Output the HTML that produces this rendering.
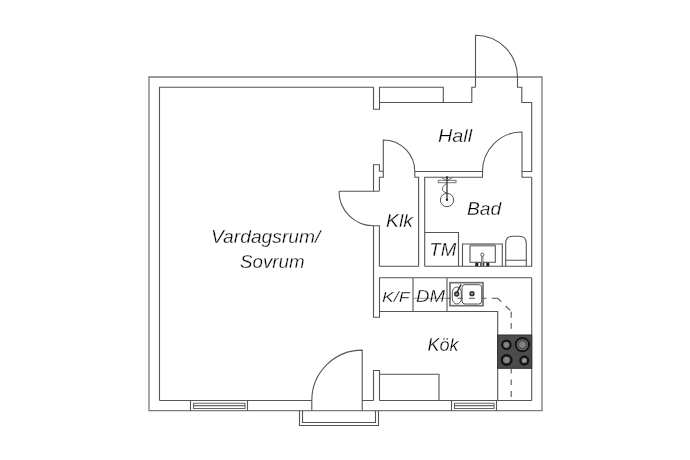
<!DOCTYPE html>
<html><head><meta charset="utf-8">
<style>
html,body{margin:0;padding:0;background:#fff;}
body{width:690px;height:460px;overflow:hidden;}
svg{display:block;}
.lbl{filter:grayscale(1);}
text{font-family:"Liberation Sans",sans-serif;font-style:italic;fill:#000;stroke:#fff;stroke-width:0.3px;paint-order:normal;}
</style></head>
<body>
<svg width="690" height="460" viewBox="0 0 690 460">
<g fill="none" stroke="#555" stroke-width="1.1">
<!-- outer wall -->
<path d="M149,77 H542 V410.7 H149 Z" stroke="#7a7a7a" stroke-width="1.3"/>
<!-- top wall inner -->
<path d="M159.5,400.5 V87.2 H373.5 V109.3 H379.5 V87.2 H443.3 V102.5"/>
<path d="M379.5,102.5 H471.8 V87.2 H475.5"/>
<!-- entrance door top -->
<path d="M475.5,87.2 V35.2 A42,42 0 0 1 517.5,77 V87.2 H521.8 V102.5 H531.7 V171.5 H522"/>
<path d="M531.7,177.2 V266.3 H424.7"/>
<!-- hall/klk door -->
<path d="M373.5,191.2 V164.8 H379.4 V171.3 H383.3 V177.3 H379.4 V191.2"/>
<path d="M383.3,171.2 V140 A31.5,31.5 0 0 1 414.8,171.5 V177.2 H418.6 V266.3 H379.4 V225.7 H373.5 V317.2 H379.5 V277.8 H531.7"/>
<path d="M339,191.2 H379"/>
<path d="M339,191.2 A34.5,34.5 0 0 0 373.5,225.7"/>
<!-- hall/bad wall -->
<path d="M414.8,171.5 H482.5 V177.2 H424.7 V266.3"/>
<path d="M482.5,171.5 A39.5,39.5 0 0 1 522,132 V177.2 H531.7"/>
<!-- kitchen -->
<path d="M379.5,311.5 H497.7 V400.5"/>
<path d="M413,277.8 V311.5 M447,277.8 V311.5"/>
<path d="M531.7,277.8 V400.5"/>
<!-- bottom stub and cabinet -->
<path d="M373.5,400.5 V370.5 H379.5 V400.5"/>
<path d="M379.5,374.3 H439 V400.5"/>
<!-- bottom inner wall -->
<path d="M159.5,400.5 H311.8 V410.7"/>
<path d="M362.2,400.5 H373.5 M379.5,400.5 H531.7"/>
<!-- bottom door -->
<path d="M311.8,400.5 A50.4,50.4 0 0 1 362.2,350.1 V410.7"/>
<!-- balcony -->
<path d="M299.5,410.7 V425.5 H378.5 V410.7"/>
<path d="M302.5,410.7 V422.5 H375.5 V410.7"/>
<!-- windows -->
<path d="M190.5,400.5 V410.7 M247.5,400.5 V410.7"/>
<path d="M193.5,403.2 H245 V408.5 H193.5 Z M193.5,405.6 H245" stroke="#666"/>
<path d="M451.5,400.5 V410.7 M496.5,400.5 V410.7"/>
<path d="M454.5,403.2 H494 V408.5 H454.5 Z M454.5,405.6 H494" stroke="#666"/>
<!-- TM -->
<path d="M424.7,232.5 H458.5 V266.3"/>
<!-- bathroom sink -->
<path d="M462.5,266.3 V244 H502.3 V266.3"/>
<path d="M470,245 V262.3 H495.3 V245"/>
<path d="M470,245 H495.3" stroke="#8a8a8a" stroke-width="3"/>
<!-- toilet -->
<path d="M505.7,266.3 V243.3 Q505.7,236.3 512.7,236.3 H519.3 Q526.3,236.3 526.3,243.3 V266.3 M505.7,260.3 H526.3"/>
<!-- shower -->
<rect x="438.3" y="180.3" width="17.7" height="2.4" stroke="#777" stroke-width="1"/>
<path d="M441.5,177.4 L446.5,180.5 M452.5,177.4 L447.5,180.5" stroke="#666" stroke-width="1"/>
<path d="M446.5,183.5 C441,187 441,192 447,193" stroke="#555" stroke-width="0.9"/>
<circle cx="447" cy="200" r="6.7" stroke="#555" stroke-width="1"/>
<!-- kitchen sink -->
<rect x="450" y="282.7" width="33" height="23" stroke="#707070" stroke-width="1.7"/>
<rect x="452.3" y="287" width="9" height="17" rx="4.5" ry="5.5" stroke="#444" stroke-width="0.9"/>
<rect x="462" y="284.7" width="19.7" height="19.3" rx="3" stroke="#444" stroke-width="0.9"/>
</g>
<!-- dashes -->
<path d="M413,298.3 H447" stroke="#777" stroke-width="0.8"/>
<g fill="none" stroke="#555" stroke-width="1.1">
<path d="M447,298.2 H451 M457.5,298.2 H463 M469,298.2 H475 M482,298.2 H486.5 M491.8,298.3 H497.7 L501.3,301.7 M505.7,306 L510.2,310.4 M511.2,311.7 V317.7 M511.2,323 V328.7 M511.2,369 V373.5 M511.2,379.5 V385 M511.2,391 V397"/>
</g>
<!-- stem -->
<path d="M447,177.5 V199.5" stroke="#3a3a3a" stroke-width="1.3"/>
<circle cx="447" cy="199.7" r="1.2" fill="#222"/>
<circle cx="447" cy="177.6" r="1.3" fill="#333"/>
<!-- drains / faucets -->
<g fill="#8a8a8a" stroke="#2a2a2a" stroke-width="1.3">
<circle cx="456.7" cy="294" r="2"/>
<circle cx="472" cy="293.7" r="2"/>
</g>
<path d="M457,292.5 L461,284.5" stroke="#2a2a2a" stroke-width="1.6"/>
<rect x="475.3" y="262.7" width="14" height="3.6" fill="#1a1a1a"/>
<g fill="#fff">
<rect x="478.3" y="263" width="2" height="3"/>
<rect x="484.3" y="263" width="2" height="3"/>
</g>
<path d="M482.3,266.3 V256" stroke="#666" stroke-width="2.2"/>
<path d="M482.3,266.3 V256.5" stroke="#eee" stroke-width="0.6"/>
<circle cx="482.3" cy="254.7" r="1.6" fill="#fff" stroke="#555" stroke-width="0.9"/>
<!-- stove -->
<defs>
<radialGradient id="bg" cx="50%" cy="50%" r="50%"><stop offset="0" stop-color="#8c8c8c"/><stop offset="0.7" stop-color="#777"/><stop offset="1" stop-color="#5a5a5a"/></radialGradient>
</defs>
<rect x="497.7" y="335" width="34" height="33.3" fill="#4c4c4c" stroke="#2e2e2e" stroke-width="1"/>
<g stroke="#151515" fill="url(#bg)">
<circle cx="506.4" cy="344.8" r="4.2" stroke-width="2.2"/>
<circle cx="522.4" cy="344.6" r="6.7" stroke-width="2"/>
<circle cx="506.6" cy="360" r="4.8" stroke-width="2.4"/>
<circle cx="524.3" cy="360.6" r="3.9" stroke-width="2.3"/>
</g>
<circle cx="522.4" cy="344.6" r="4.3" fill="url(#bg)" stroke="#3a3a3a" stroke-width="0.9"/>
<circle cx="524.3" cy="360.6" r="1.6" fill="#9a9a9a"/>
<!-- labels -->
<g class="lbl">
<text x="438" y="141.8" font-size="18" textLength="34.2" lengthAdjust="spacingAndGlyphs">Hall</text>
<text x="467" y="214.5" font-size="18" textLength="34.2" lengthAdjust="spacingAndGlyphs">Bad</text>
<text x="386" y="226.5" font-size="18" textLength="27" lengthAdjust="spacingAndGlyphs">Klk</text>
<text x="429.3" y="255.5" font-size="18" textLength="27" lengthAdjust="spacingAndGlyphs">TM</text>
<text x="382" y="301.5" font-size="14.5" textLength="27.6" lengthAdjust="spacingAndGlyphs">K/F</text>
<text x="416" y="302" font-size="17" textLength="29" lengthAdjust="spacingAndGlyphs">DM</text>
<text x="427.5" y="351" font-size="18" textLength="31" lengthAdjust="spacingAndGlyphs">Kök</text>
<text x="211" y="243" font-size="18" textLength="109.4" lengthAdjust="spacingAndGlyphs">Vardagsrum/</text>
<text x="240" y="267.6" font-size="18" textLength="64.5" lengthAdjust="spacingAndGlyphs">Sovrum</text>
</g>
</svg>
</body></html>
